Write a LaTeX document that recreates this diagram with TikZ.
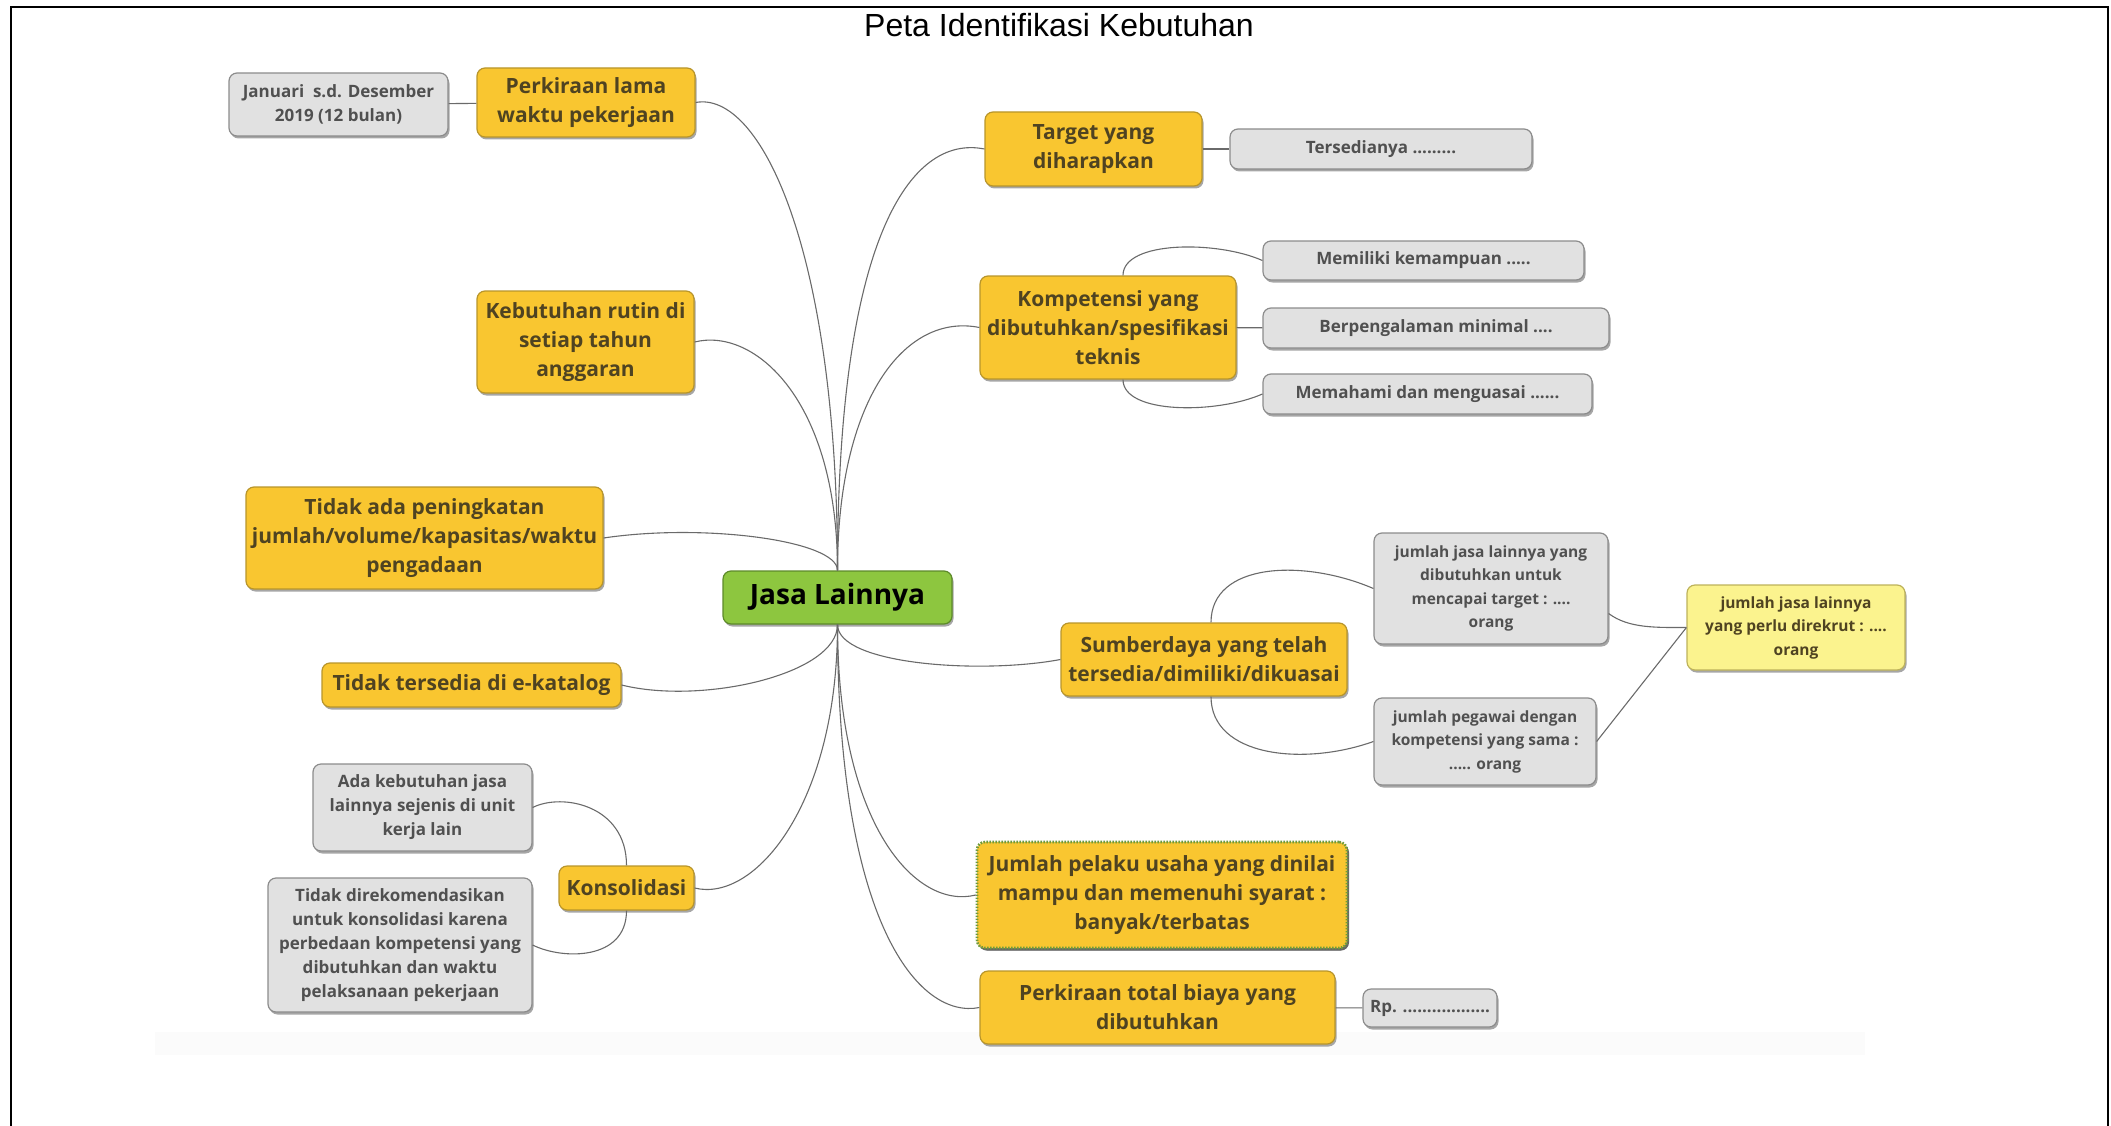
\documentclass[tikz,border=0pt]{standalone}
\usepackage{fontspec}
\setmainfont{Liberation Sans}
\newfontfamily\mapfont{Open Sans}
\usetikzlibrary{shadows}

\definecolor{mapyellow}{HTML}{F9C630}
\definecolor{mapyellowline}{HTML}{B8952B}
\definecolor{maptext}{HTML}{4F4321}
\definecolor{mapgray}{HTML}{E1E1E1}
\definecolor{mapgrayline}{HTML}{8C8C8C}
\definecolor{mapgraytext}{HTML}{505050}
\definecolor{mapgreen}{HTML}{8DC63F}
\definecolor{mapgreenline}{HTML}{5D8A2A}
\definecolor{mapdots}{HTML}{6F9A3C}
\definecolor{maplemon}{HTML}{FBF38E}
\definecolor{maplemonline}{HTML}{BDB25A}
\definecolor{maplink}{HTML}{6A6A6A}

\begin{document}
\begin{tikzpicture}[x=1pt,y=-1pt,
    box/.style={rounded corners=8pt, line width=1.2pt, align=center, inner sep=4pt,
        general shadow={fill=black!35, shadow xshift=1.5pt, shadow yshift=-2.5pt}},
    rootbox/.style={box, fill=mapgreen, draw=mapgreenline, text=black,
        font=\mapfont\bfseries\fontsize{28}{32}\selectfont},
    mainbox/.style={box, fill=mapyellow, draw=mapyellowline, text=maptext,
        font=\mapfont\bfseries\fontsize{21}{29}\selectfont},
    subbox/.style={box, fill=mapgray, draw=mapgrayline, text=mapgraytext,
        font=\mapfont\bfseries\fontsize{17}{24}\selectfont},
    smallbox/.style={subbox, font=\mapfont\bfseries\fontsize{15.5}{23.5}\selectfont},
    link/.style={draw=maplink, line width=1.1pt}]
    \useasboundingbox (0,0) rectangle (2111,1126);
    \draw[line width=2pt] (11,1126) -- (11,7) -- (2108,7) -- (2108,1126);
    \fill[black!1.5] (155,1032) rectangle (1865,1055);
    \node[anchor=base, font=\fontsize{32}{36}\selectfont] (title) at (1059,37) {Peta Identifikasi Kebutuhan};

    \node[rootbox, minimum width=229pt, minimum height=53pt] (jasa) at (837.5,597.5) {Jasa Lainnya};

    \node[mainbox, minimum width=218pt, minimum height=69pt] (waktu) at (586,102.5) {Perkiraan lama\\waktu pekerjaan};
    \node[subbox, minimum width=219pt, minimum height=63pt] (jan) at (338.5,104.5) {Januari\ \ s.d. Desember\\2019 (12 bulan)};
    \node[mainbox, minimum width=217pt, minimum height=102pt] (rutin) at (585.5,342) {Kebutuhan rutin di\\setiap tahun\\anggaran};
    \node[mainbox, minimum width=357pt, minimum height=102pt] (tidakada) at (424.5,538) {Tidak ada peningkatan\\jumlah/volume/kapasitas/waktu\\pengadaan};
    \node[mainbox, minimum width=299pt, minimum height=44pt] (ekatalog) at (471.5,685) {Tidak tersedia di e-katalog};
    \node[mainbox, minimum width=135pt, minimum height=44pt] (konsol) at (626.5,888) {Konsolidasi};
    \node[subbox, minimum width=219pt, minimum height=87pt] (adakeb) at (422.5,807.5) {Ada kebutuhan jasa\\lainnya sejenis di unit\\kerja lain};
    \node[subbox, minimum width=264pt, minimum height=134pt] (tidakrek) at (400,945) {Tidak direkomendasikan\\untuk konsolidasi karena\\perbedaan kompetensi yang\\dibutuhkan dan waktu\\pelaksanaan pekerjaan};

    \node[mainbox, minimum width=217pt, minimum height=74pt] (target) at (1093.5,149) {Target yang\\diharapkan};
    \node[subbox, minimum width=302pt, minimum height=40pt] (tersedia) at (1381,149) {Tersedianya .........};
    \node[mainbox, minimum width=256pt, minimum height=103pt] (kompetensi) at (1108,327.5) {Kompetensi yang\\dibutuhkan/spesifikasi\\teknis};
    \node[subbox, minimum width=321pt, minimum height=39pt] (memiliki) at (1423.5,260.5) {Memiliki kemampuan .....};
    \node[subbox, minimum width=346pt, minimum height=40pt] (pengalaman) at (1436,328) {Berpengalaman minimal ....};
    \node[subbox, minimum width=329pt, minimum height=40pt] (memahami) at (1427.5,394) {Memahami dan menguasai ......};
    \node[mainbox, minimum width=286pt, minimum height=73pt] (sumber) at (1204,659.5) {Sumberdaya yang telah\\tersedia/dimiliki/dikuasai};
    \node[smallbox, minimum width=234pt, minimum height=111pt] (jmljasa) at (1491,588.5) {jumlah jasa lainnya yang\\dibutuhkan untuk\\mencapai target : ....\\orang};
    \node[smallbox, minimum width=222pt, minimum height=87pt] (pegawai) at (1485,741.5) {jumlah pegawai dengan\\kompetensi yang sama :\\..... orang};
    \node[smallbox, fill=maplemon, draw=maplemonline, text=maptext, minimum width=218pt, minimum height=85pt] (rekrut) at (1796,627.5) {jumlah jasa lainnya\\yang perlu direkrut : ....\\orang};
    \node[mainbox, draw=mapdots, line width=2.6pt, dash pattern=on 1.6pt off 1.4pt,
        general shadow={fill=black!60, shadow xshift=2pt, shadow yshift=-2.5pt},
        minimum width=370pt, minimum height=106pt] (pelaku) at (1162,895) {Jumlah pelaku usaha yang dinilai\\mampu dan memenuhi syarat :\\banyak/terbatas};
    \node[mainbox, minimum width=355pt, minimum height=73pt] (biaya) at (1157.5,1007.5) {Perkiraan total biaya yang\\dibutuhkan};
    \node[subbox, minimum width=134pt, minimum height=38pt] (rp) at (1430,1008) {Rp. ..................};

    \path[link] (jasa.north) .. controls +(0,-320) and +(65,-12) .. (waktu.east);
    \path[link] (jasa.north) .. controls +(0,-170) and +(60,-15) .. (rutin.east);
    \path[link] (jasa.north) .. controls +(0,-30) and +(100,-15) .. (tidakada.east);
    \path[link] (jasa.south) .. controls +(0,50) and +(80,20) .. (ekatalog.east);
    \path[link] (jasa.south) .. controls +(0,180) and +(60,15) .. (konsol.east);
    \path[link] (jasa.north) .. controls +(0,-330) and +(-75,-15) .. (target.west);
    \path[link] (jasa.north) .. controls +(0,-170) and +(-75,-15) .. (kompetensi.west);
    \path[link] (jasa.south) .. controls +(0,40) and +(-80,15) .. (sumber.west);
    \path[link] (jasa.south) .. controls +(0,200) and +(-60,15) .. (pelaku.west);
    \path[link] (jasa.south) .. controls +(0,300) and +(-60,12) .. (biaya.west);

    \path[link] (jan) -- (waktu);
    \path[link] (target) -- (tersedia);
    \path[link] (kompetensi) -- (pengalaman);
    \path[link] (biaya) -- (rp);
    \path[link] ([xshift=15pt]kompetensi.north) .. controls +(0,-35) and +(-45,-20) .. (memiliki.west);
    \path[link] ([xshift=15pt]kompetensi.south) .. controls +(0,35) and +(-45,20) .. (memahami.west);
    \path[link] ([xshift=7pt]sumber.north) .. controls +(0,-60) and +(-70,-30) .. (jmljasa.west);
    \path[link] ([xshift=7pt]sumber.south) .. controls +(0,60) and +(-70,25) .. (pegawai.west);
    \path[link] ([yshift=-25pt]jmljasa.east) .. controls +(20,15) and +(-30,0) .. (rekrut.west);
    \path[link] (pegawai.east) -- (rekrut.west);
    \path[link] (adakeb.east) .. controls +(30,-15) and +(0,-60) .. (konsol.north);
    \path[link] (tidakrek.east) .. controls +(30,15) and +(0,50) .. (konsol.south);
\end{tikzpicture}
\end{document}
